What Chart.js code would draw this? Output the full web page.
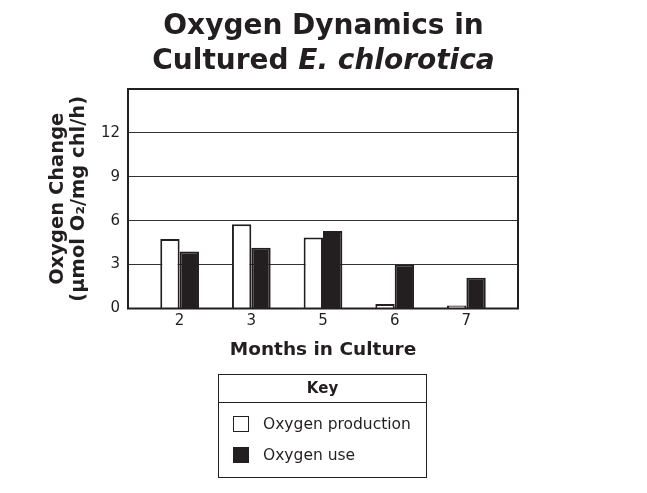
<!DOCTYPE html>
<html>
<head>
<meta charset="utf-8">
<script src="https://cdn.jsdelivr.net/npm/chart.js@4/dist/chart.umd.min.js"></script>
<style>
  body { margin: 0; background: #fff; }
  #wrap { position: relative; width: 647px; height: 493px; font-family: "DejaVu Sans", Verdana, sans-serif; color: #231f20; }
  #title { position: absolute; left: 0; top: 7px; width: 647px; text-align: center; font-weight: bold; font-size: 28px; line-height: 35px; }
  #key { position: absolute; left: 218px; top: 374px; width: 207px; height: 102px; border: 1.5px solid #231f20; }
  #key .head { height: 27px; border-bottom: 1.5px solid #231f20; text-align: center; font-weight: bold; font-size: 15px; line-height: 27px; }
  #key .item { position: absolute; left: 14px; font-size: 15.5px; line-height: 16px; white-space: nowrap; }
  #key .sw { display: inline-block; width: 14px; height: 14px; border: 1.5px solid #231f20; vertical-align: top; margin-right: 14px; }
</style>
</head>
<body>
<div id="wrap">
  <canvas id="chart" width="647" height="493"></canvas>
  <div id="title">Oxygen Dynamics in<br>Cultured <i>E. chlorotica</i></div>
  <div id="key"><div class="head">Key</div></div>
</div>
<script>
  const months = ['2', '3', '5', '6', '7'];
  const production = [4.75, 5.75, 4.85, 0.3, 0.2];
  const use = [3.9, 4.15, 5.3, 3.0, 2.1];
  const yTicks = [0, 3, 6, 9, 12];

  const ink = '#231f20';
  const font = 'DejaVu Sans';

  // points on a linear x axis so the outer gap can be wider than half a step
  const toPoints = vals => vals.map((v, i) => ({ x: i, y: v }));

  const frame = {
    id: 'frame',
    afterDatasetsDraw(chart) {
      const a = chart.chartArea;
      const c = chart.ctx;
      c.save();
      c.strokeStyle = ink;
      c.lineWidth = 2;
      c.strokeRect(a.left, a.top, a.right - a.left, a.bottom - a.top);
      c.restore();
    }
  };

  const chart = new Chart(document.getElementById('chart'), {
    type: 'bar',
    data: {
      datasets: [{
        label: 'Oxygen production',
        data: toPoints(production),
        backgroundColor: '#ffffff',
        borderColor: ink,
        borderWidth: 2,
        categoryPercentage: 0.54,
        barPercentage: 1
      }, {
        label: 'Oxygen use',
        data: toPoints(use),
        backgroundColor: ink,
        borderColor: ink,
        borderWidth: 2,
        categoryPercentage: 0.54,
        barPercentage: 1
      }]
    },
    options: {
      responsive: false,
      animation: false,
      layout: { padding: { top: 89, left: 0, right: 129, bottom: 124.5 } },
      plugins: { legend: { display: false }, tooltip: { enabled: false } },
      scales: {
        x: {
          type: 'linear',
          offset: false,
          min: -0.72,
          max: months.length - 1 + 0.72,
          afterBuildTicks: s => { s.ticks = months.map((m, i) => ({ value: i })); },
          afterFit: s => { s.height = 60; },
          grid: { display: false, drawTicks: false },
          border: { display: false },
          ticks: {
            callback: v => months[v],
            color: ink,
            font: { family: font, size: 15 },
            padding: 4,
            maxRotation: 0
          },
          title: {
            display: true,
            text: 'Months in Culture',
            color: ink,
            font: { family: font, size: 18.5, weight: 'bold' },
            padding: { top: 0, bottom: 7 }
          }
        },
        y: {
          min: 0,
          max: 15,
          afterBuildTicks: s => { s.ticks = yTicks.map(v => ({ value: v })); },
          afterFit: s => { s.width = 128; },
          grid: { color: '#333333', lineWidth: 1, drawTicks: false },
          border: { display: false },
          ticks: {
            color: ink,
            font: { family: font, size: 15 },
            padding: 8
          },
          title: {
            display: true,
            text: ['Oxygen Change', '(µmol O₂/mg chl/h)'],
            color: ink,
            font: { family: font, size: 19.5, weight: 'bold', lineHeight: 1.08 },
            padding: { top: 47, bottom: 0 }
          }
        }
      }
    },
    plugins: [frame]
  });

  // key box built from the chart's datasets
  const key = document.getElementById('key');
  const tops = [41, 72];
  chart.data.datasets.forEach((ds, i) => {
    const item = document.createElement('div');
    item.className = 'item';
    item.style.top = tops[i] + 'px';
    const sw = document.createElement('span');
    sw.className = 'sw';
    sw.style.background = ds.backgroundColor;
    item.appendChild(sw);
    item.appendChild(document.createTextNode(ds.label));
    key.appendChild(item);
  });
</script>
</body>
</html>
